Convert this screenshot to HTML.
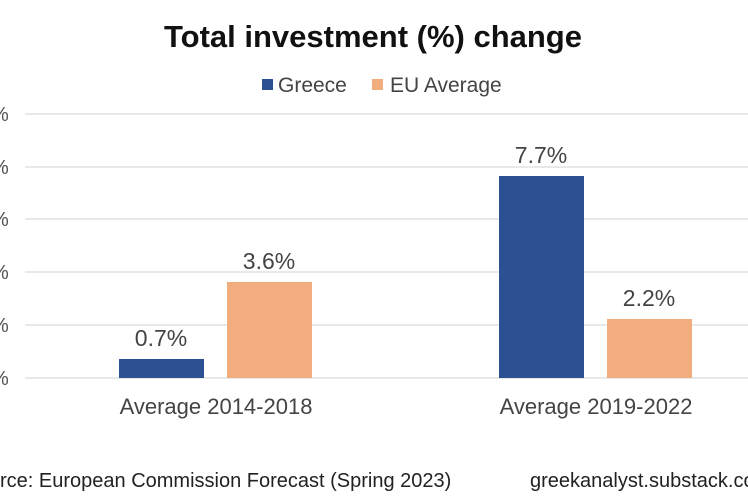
<!DOCTYPE html>
<html><head><style>
body{margin:0;background:#fff;}
svg text{font-family:"Liberation Sans",sans-serif;}
</style></head><body>
<svg width="748" height="498" xmlns="http://www.w3.org/2000/svg">
<rect width="748" height="498" fill="#fff"/>
<text x="373" y="47" text-anchor="middle" font-size="31" font-weight="bold" fill="#111">Total investment (%) change</text>
<rect x="262" y="79" width="11" height="11" fill="#2c5193"/>
<text x="278" y="92" font-size="21" fill="#444">Greece</text>
<rect x="372" y="79" width="11" height="11" fill="#f2ad7e"/>
<text x="390" y="92" font-size="21" fill="#444">EU Average</text>
<g stroke="#e2e2e2" stroke-width="1.5">
<line x1="25" y1="114" x2="748" y2="114"/>
<line x1="25" y1="167" x2="748" y2="167"/>
<line x1="25" y1="219" x2="748" y2="219"/>
<line x1="25" y1="272" x2="748" y2="272"/>
<line x1="25" y1="325" x2="748" y2="325"/>
<line x1="25" y1="378" x2="748" y2="378"/>
</g>
<g font-size="20" fill="#555">
<text x="-9" y="121">%</text><text x="-9" y="174">%</text><text x="-9" y="226">%</text>
<text x="-9" y="279">%</text><text x="-9" y="332">%</text><text x="-9" y="385">%</text>
</g>
<rect x="119" y="359" width="85" height="19" fill="#2c5193"/>
<rect x="227" y="282" width="85" height="96" fill="#f2ad7e"/>
<rect x="499" y="176" width="85" height="202" fill="#2c5193"/>
<rect x="607" y="319" width="85" height="59" fill="#f2ad7e"/>
<g font-size="23" fill="#444" text-anchor="middle">
<text x="161" y="346">0.7%</text>
<text x="269" y="269">3.6%</text>
<text x="541" y="163">7.7%</text>
<text x="649" y="306">2.2%</text>
</g>
<g font-size="22" fill="#444" text-anchor="middle">
<text x="216" y="414">Average 2014-2018</text>
<text x="596" y="414">Average 2019-2022</text>
</g>
<text x="0" y="487" font-size="20" fill="#222">rce: European Commission Forecast (Spring 2023)</text>
<text x="530" y="487" font-size="20" fill="#222">greekanalyst.substack.com</text>
</svg>
</body></html>
